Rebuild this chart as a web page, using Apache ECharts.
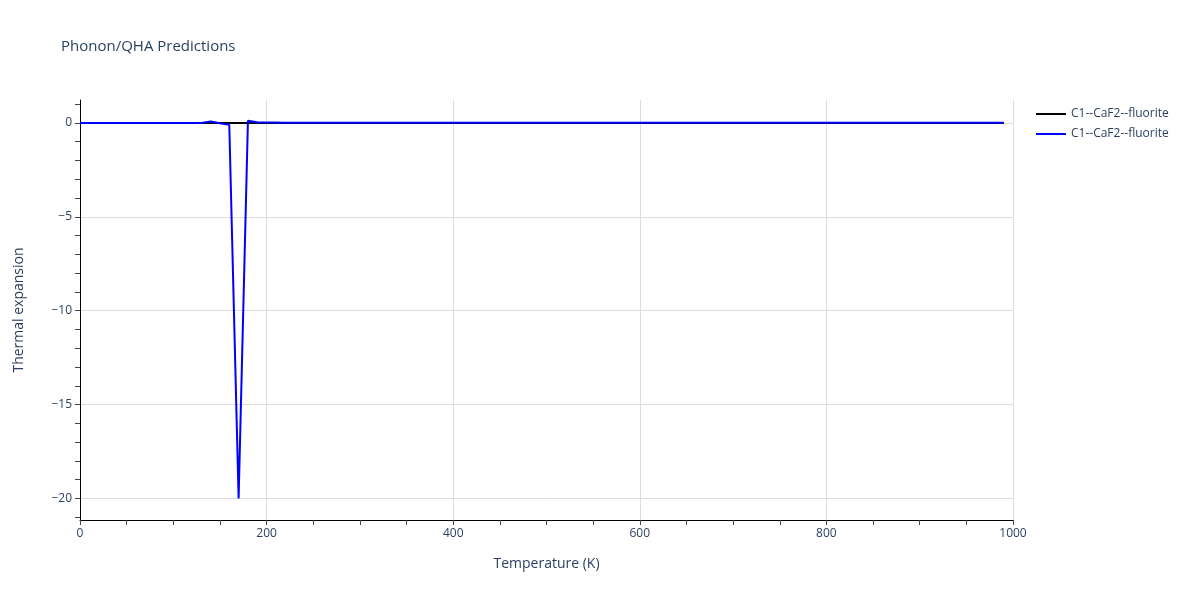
<!DOCTYPE html>
<html>
<head>
<meta charset="utf-8">
<script src="https://cdn.jsdelivr.net/npm/echarts@6/dist/echarts.min.js"></script>
<style>html,body{margin:0;padding:0;background:#fff}#c{width:1200px;height:600px}</style>
</head>
<body>
<div id="c"></div>
<script>
const temperatures = [0,10,20,30,40,50,60,70,80,90,100,110,120,130,140,150,160,170,180,190,200,210,220,230,240,250,260,270,280,290,300,310,320,330,340,350,360,370,380,390,400,410,420,430,440,450,460,470,480,490,500,510,520,530,540,550,560,570,580,590,600,610,620,630,640,650,660,670,680,690,700,710,720,730,740,750,760,770,780,790,800,810,820,830,840,850,860,870,880,890,900,910,920,930,940,950,960,970,980,990];
const blackValues = [0,0,0,0,0,0,0,0,0,0,0,0,0,0,0,0,0,0,0,0,0,0,0,0,0,0,0,0,0,0,0,0,0,0,0,0,0,0,0,0,0,0,0,0,0,0,0,0,0,0,0,0,0,0,0,0,0,0,0,0,0,0,0,0,0,0,0,0,0,0,0,0,0,0,0,0,0,0,0,0,0,0,0,0,0,0,0,0,0,0,0,0,0,0,0,0,0,0,0,0];
const blueValues = [0,0,0,0,0,0,0,0,0,0,0,0,0,0,0.07,-0.02,-0.1,-20,0.12,0.04,0.02,0.015,0.01,0.01,0.01,0.01,0.01,0.01,0.01,0.01,0.01,0.01,0.01,0.01,0.01,0.01,0.01,0.01,0.01,0.01,0.01,0.01,0.01,0.01,0.01,0.01,0.01,0.01,0.01,0.01,0.01,0.01,0.01,0.01,0.01,0.01,0.01,0.01,0.01,0.01,0.01,0.01,0.01,0.01,0.01,0.01,0.01,0.01,0.01,0.01,0.01,0.01,0.01,0.01,0.01,0.01,0.01,0.01,0.01,0.01,0.01,0.01,0.01,0.01,0.01,0.01,0.01,0.01,0.01,0.01,0.01,0.01,0.01,0.01,0.01,0.01,0.01,0.01,0.01,0.01];
const seriesNames = ['C1--CaF2--fluorite', 'C1--CaF2--fluorite '];
const yMajorTicks = [0,-5,-10,-15,-20];
const yMinorTicks = [1,0,-1,-2,-3,-4,-5,-6,-7,-8,-9,-10,-11,-12,-13,-14,-15,-16,-17,-18,-19,-20,-21];

const font = '"Open Sans", verdana, arial, sans-serif';
const txt = '#2a3f5f';
const chart = echarts.init(document.getElementById('c'));
const yMin = -21.15, yMax = 1.22;
chart.setOption({
  animation: false,
  backgroundColor: '#fff',
  title: { text: 'Phonon/QHA Predictions', left: 56, top: 34,
    textStyle: { fontFamily: font, fontSize: 15, fontWeight: 'normal', color: txt } },
  legend: { orient: 'vertical', left: 1031, top: 103, itemWidth: 30, itemHeight: 2, itemGap: 8,
    icon: 'rect', textStyle: { fontFamily: font, fontSize: 12, color: txt },
    data: seriesNames },
  grid: { left: 80, right: 187, top: 100, bottom: 80, containLabel: false },
  xAxis: {
    type: 'value', min: 0, max: 1000, interval: 200,
    name: 'Temperature (K)', nameLocation: 'middle', nameGap: 37,
    nameTextStyle: { fontFamily: font, fontSize: 14, color: txt },
    axisLine: { show: true, onZero: false, lineStyle: { color: '#000', width: 1 } },
    axisTick: { show: true, length: 5, lineStyle: { color: '#444' } },
    minorTick: { show: true, splitNumber: 4, length: 5, lineStyle: { color: '#444' } },
    axisLabel: { fontFamily: font, fontSize: 12, color: txt, margin: 8, formatter: v => String(v) },
    splitLine: { show: true, lineStyle: { color: '#dcdcdc', width: 1 } }
  },
  yAxis: [{
    type: 'value', min: yMin, max: yMax,
    name: 'Thermal expansion', nameLocation: 'middle', nameGap: 54,
    nameTextStyle: { fontFamily: font, fontSize: 14, color: txt },
    axisLine: { show: true, onZero: false, lineStyle: { color: '#000', width: 1 } },
    axisTick: { show: true, length: 5, customValues: yMinorTicks, lineStyle: { color: '#444' } },
    axisLabel: { fontFamily: font, fontSize: 12, color: txt, margin: 8, customValues: yMajorTicks,
      formatter: v => v < 0 ? '\u2212' + Math.abs(v) : String(v) },
    splitLine: { show: false }
  }, {
    type: 'value', min: yMin, max: yMax, position: 'left',
    axisLine: { show: false }, axisLabel: { show: false },
    axisTick: { show: false, customValues: yMajorTicks },
    splitLine: { show: true, lineStyle: { color: '#dcdcdc', width: 1 } }
  }],
  series: [{
    name: seriesNames[0], type: 'line', yAxisIndex: 0, symbol: 'none',
    data: temperatures.map((t, i) => [t, blackValues[i]]),
    lineStyle: { color: '#000', width: 2 }, itemStyle: { color: '#000' }
  }, {
    name: seriesNames[1], type: 'line', yAxisIndex: 0, symbol: 'none',
    data: temperatures.map((t, i) => [t, blueValues[i]]),
    lineStyle: { color: '#0000ff', width: 2 }, itemStyle: { color: '#0000ff' }
  }]
});
</script>
</body>
</html>
